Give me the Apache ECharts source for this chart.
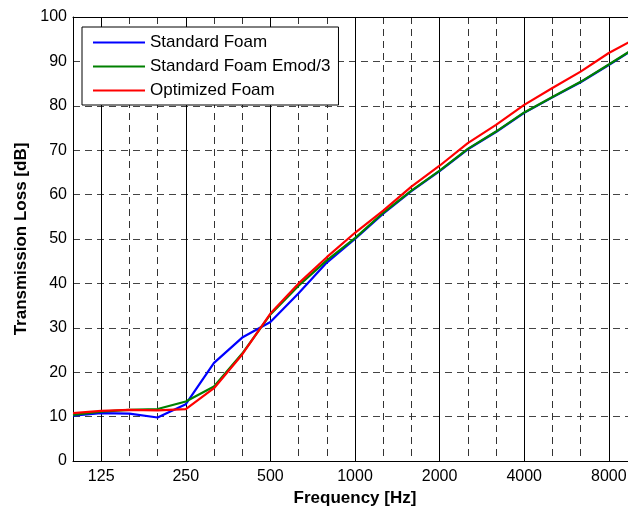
<!DOCTYPE html>
<html>
<head>
<meta charset="utf-8">
<script src="https://cdn.jsdelivr.net/npm/echarts@6/dist/echarts.min.js"></script>
<style>
html,body{margin:0;padding:0;background:#fff;overflow:hidden;width:628px;height:507px;}
#chart{width:638px;height:507px;}
</style>
</head>
<body>
<div id="chart"></div>
<script>
// Third-octave band centre frequencies (Hz)
const frequencies = ['100','125','160','200','250','315','400','500','630','800','1000','1250','1600','2000','2500','3150','4000','5000','6300','8000','10000'];
// Octave labels shown on the x axis
const octaveLabels = ['125','250','500','1000','2000','4000','8000'];
// Transmission loss [dB]
const standardFoam      = [10.2, 10.8, 10.65, 9.8, 12.8, 22.1, 27.8, 31.3, 37.8, 44.7, 50.0, 55.7, 60.8, 65.3, 70.2, 74.1, 78.4, 81.9, 85.3, 89.2, 93.2];
const standardFoamEmod3 = [10.4, 11.1, 11.5, 11.7, 13.4, 16.8, 24.2, 33.0, 39.5, 45.2, 50.2, 55.9, 60.9, 65.4, 70.3, 74.2, 78.5, 82.0, 85.4, 89.3, 93.3];
const optimizedFoam     = [10.8, 11.3, 11.5, 11.4, 11.7, 16.4, 24.0, 33.2, 40.0, 45.9, 51.4, 56.4, 61.8, 66.5, 71.6, 75.7, 80.2, 84.0, 87.7, 91.9, 95.3];
const seriesNames = ['Standard Foam', 'Standard Foam Emod/3', 'Optimized Foam'];

const FONT = '"Liberation Sans", Arial, sans-serif';
const chart = echarts.init(document.getElementById('chart'), null, {renderer: 'canvas'});

chart.setOption({
  animation: false,
  backgroundColor: '#fff',
  grid: {left: 73, top: 17, bottom: 46, right: 1, containLabel: false, outerBoundsMode: 'none'},
  legend: {
    orient: 'vertical',
    left: 82, top: 27,
    padding: [7, 8, 6, 11],
    itemGap: 7,
    itemWidth: 52, itemHeight: 2,
    icon: 'rect',
    backgroundColor: '#fff',
    borderColor: '#000',
    borderWidth: 1,
    textStyle: {fontFamily: FONT, fontSize: 17, color: '#000'},
    data: seriesNames
  },
  xAxis: [{
    type: 'category',
    data: frequencies,
    boundaryGap: false,
    position: 'bottom',
    axisLine: {show: true, lineStyle: {color: '#000', width: 1}},
    axisTick: {show: false},
    axisLabel: {
      show: true, margin: 8, fontFamily: FONT, fontSize: 16, color: '#000',
      interval: (idx, val) => octaveLabels.indexOf(val) >= 0
    },
    splitLine: {show: true, interval: 0, lineStyle: {color: '#333', width: 1, type: [7, 5]}},
    name: 'Frequency [Hz]',
    nameLocation: 'middle',
    nameGap: 28,
    nameTextStyle: {fontFamily: FONT, fontSize: 17, fontWeight: 'bold', color: '#000'}
  }, {
    type: 'category',
    data: frequencies,
    boundaryGap: false,
    position: 'top',
    axisLine: {show: true, lineStyle: {color: '#000', width: 1}},
    axisTick: {show: false},
    axisLabel: {show: false},
    splitLine: {show: true, interval: (idx, val) => octaveLabels.indexOf(val) >= 0, lineStyle: {color: '#000', width: 1, type: 'solid'}}
  }],
  yAxis: {
    type: 'value',
    min: 0, max: 100, interval: 10,
    axisLine: {show: true, lineStyle: {color: '#000', width: 1}},
    axisTick: {show: false},
    axisLabel: {margin: 6, fontFamily: FONT, fontSize: 16, color: '#000'},
    splitLine: {show: true, lineStyle: {color: '#444', width: 1, type: [7, 5]}},
    name: 'Transmission Loss [dB]',
    nameLocation: 'middle',
    nameGap: 43,
    nameTextStyle: {fontFamily: FONT, fontSize: 17, fontWeight: 'bold', color: '#000'}
  },
  series: [
    {name: seriesNames[0], type: 'line', xAxisIndex: 0, data: standardFoam, symbol: 'none', lineStyle: {color: '#0000ff', width: 2.2}, itemStyle: {color: '#0000ff'}},
    {name: seriesNames[1], type: 'line', xAxisIndex: 0, data: standardFoamEmod3, symbol: 'none', lineStyle: {color: '#008000', width: 2.2}, itemStyle: {color: '#008000'}},
    {name: seriesNames[2], type: 'line', xAxisIndex: 0, data: optimizedFoam, symbol: 'none', lineStyle: {color: '#ff0000', width: 2.2}, itemStyle: {color: '#ff0000'}}
  ]
});
</script>
</body>
</html>
